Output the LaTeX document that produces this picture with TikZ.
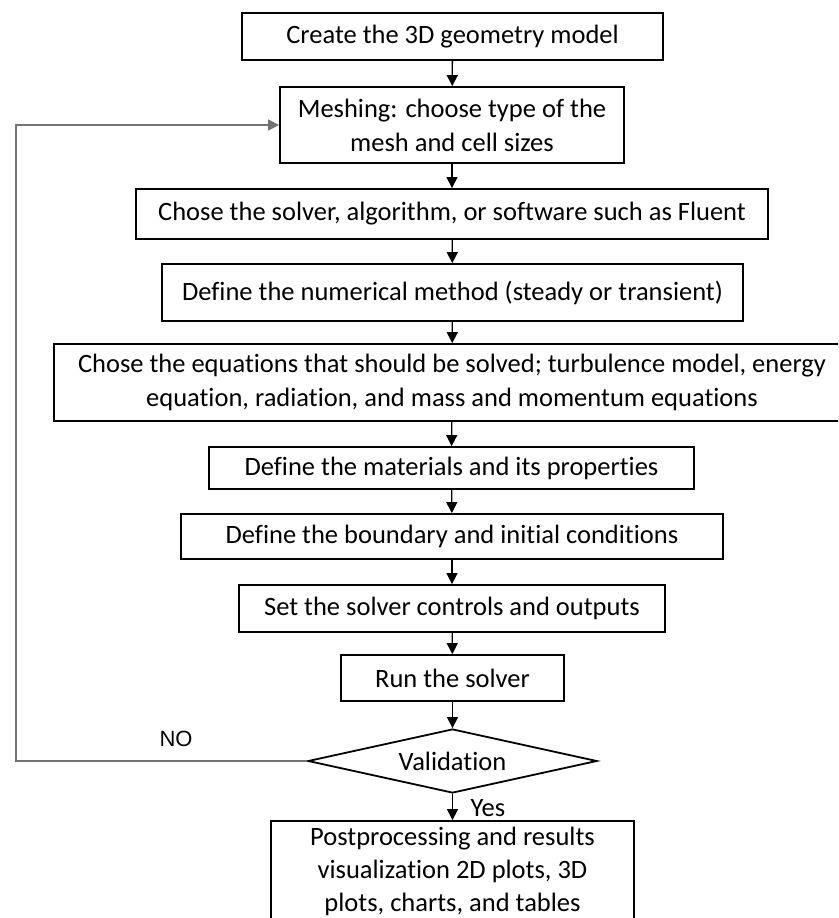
\documentclass[tikz,border=0pt]{standalone}
\usepackage{fontspec}
\setmainfont{Carlito}[Ligatures=NoCommon]
\newfontfamily\arialf{Liberation Sans}
\usetikzlibrary{arrows.meta,shapes.geometric}
\begin{document}
\begin{tikzpicture}[x=1pt,y=-1pt,
  box/.style={draw, line width=1.8pt, inner sep=0pt, align=center,
    font=\fontsize{26.5}{34}\selectfont},
  flow/.style={-{Triangle[length=11pt,width=11pt]}, line width=1.3pt},
  loopline/.style={-{Triangle[length=11pt,width=11pt]}, line width=1.5pt, draw=black!55},
  lbl/.style={inner sep=0pt, font=\fontsize{26.5}{34}\selectfont}]
\useasboundingbox (0,0) rectangle (838,918);
\clip (0,0) rectangle (838,918);

\node[box, minimum width=421, minimum height=47] (b1) at (452.5,36.5) {Create the 3D geometry model};
\node[box, minimum width=344, minimum height=76] (b2) at (452,125) {Meshing: choose type of the\\mesh and cell sizes};
\node[box, minimum width=632, minimum height=50] (b3) at (452,214) {Chose the solver, algorithm, or software such as Fluent};
\node[box, minimum width=581, minimum height=57] (b4) at (452.5,292.5) {Define the numerical method (steady or transient)};
\node[box, minimum width=796, minimum height=77] (b5) at (452,382.5) {Chose the equations that should be solved; turbulence model, energy\\equation, radiation, and mass and momentum equations};
\node[box, minimum width=485, minimum height=42] (b6) at (451.5,468) {Define the materials and its properties};
\node[box, minimum width=542, minimum height=45] (b7) at (452,536.5) {Define the boundary and initial conditions};
\node[box, minimum width=426, minimum height=47] (b8) at (452,608.5) {Set the solver controls and outputs};
\node[box, minimum width=223, minimum height=46] (b9) at (452.5,678) {Run the solver};
\node[box, shape=diamond, aspect=4.5, minimum width=289, minimum height=64] (dia) at (452.5,761) {Validation};
\node[draw, line width=1.8pt, minimum width=363, minimum height=116, inner sep=0pt] (b10) at (452.5,879) {};
\node[lbl, align=center, font=\fontsize{26.5}{33}\selectfont] (b10t) at (452.5,871) {Postprocessing and results\\visualization 2D plots, 3D\\plots, charts, and tables};

\draw[flow] (b1) -- (b2);
\draw[flow] (b2) -- (b3);
\draw[flow] (b3) -- (b4);
\draw[flow] (b4) -- (b5);
\draw[flow] (b5) -- (b6);
\draw[flow] (b6) -- (b7);
\draw[flow] (b7) -- (b8);
\draw[flow] (b8) -- (b9);
\draw[flow] (b9) -- (dia);
\draw[flow] (dia) -- (b10);

\coordinate (lp) at (16,0);
\draw[loopline] (dia.west) -- (dia.west -| lp) -- (b2.west -| lp) -- (b2.west);

\node[inner sep=0pt, font=\arialf\fontsize{22}{26}\selectfont] (no) at (176,739) {NO};
\node[lbl] (yes) at (488,808) {Yes};
\end{tikzpicture}
\end{document}
